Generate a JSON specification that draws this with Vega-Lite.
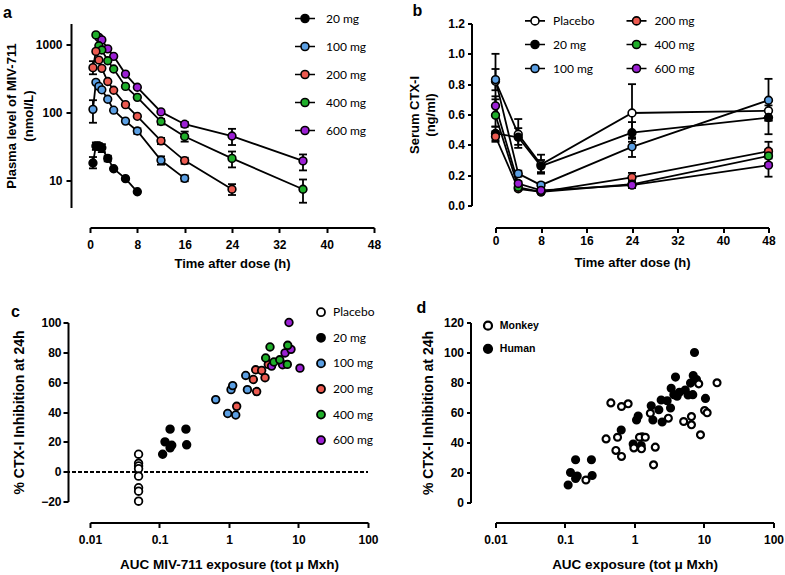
{
  "$schema": "https://vega.github.io/schema/vega-lite/v6.json",
  "background": "white",
  "padding": {"left": 3, "top": 2.5, "right": 0, "bottom": 0},
  "columns": 2,
  "spacing": {"row": 115, "column": 121.5},
  "bounds": "flush",
  "align": "all",
  "resolve": {"scale": {"fill": "independent"}, "legend": {"fill": "independent"}},
  "config": {
    "view": {"stroke": null},
    "font": "Liberation Sans",
    "axis": {"domainColor": "black", "domainWidth": 2, "tickColor": "black", "tickWidth": 2, "tickSize": 5, "labelColor": "black", "labelFont": "Liberation Sans", "labelFontWeight": "bold", "labelFontSize": 12, "titleColor": "black", "titleFont": "Liberation Sans", "titleFontWeight": "bold", "titleFontSize": 13, "grid": false, "labelFlush": false, "labelOverlap": false},
    "legend": {"padding": 0, "labelColor": "black", "labelFont": "Lato", "labelFontSize": 12, "labelFontWeight": "normal", "symbolStrokeColor": "black", "symbolStrokeWidth": 1.6, "symbolSize": 64, "title": null},
    "title": {"font": "Liberation Sans", "fontWeight": "bold", "fontSize": 16, "color": "black", "anchor": "start", "frame": "group"}
  },
  "datasets": {
    "pk": [
      {"dose": "600 mg", "t": 1.5, "v": 1250},
      {"dose": "600 mg", "t": 2, "v": 1150},
      {"dose": "600 mg", "t": 3, "v": 850},
      {"dose": "600 mg", "t": 4, "v": 660},
      {"dose": "600 mg", "t": 6, "v": 362},
      {"dose": "600 mg", "t": 8, "v": 232},
      {"dose": "600 mg", "t": 12, "v": 101},
      {"dose": "600 mg", "t": 16, "v": 66.7, "lo": 61, "hi": 72},
      {"dose": "600 mg", "t": 24, "v": 44.7, "lo": 33, "hi": 57},
      {"dose": "600 mg", "t": 36, "v": 19.3, "lo": 14, "hi": 24},
      {"dose": "400 mg", "t": 1, "v": 1360},
      {"dose": "400 mg", "t": 1.5, "v": 944},
      {"dose": "400 mg", "t": 2, "v": 816},
      {"dose": "400 mg", "t": 3, "v": 568},
      {"dose": "400 mg", "t": 4, "v": 430},
      {"dose": "400 mg", "t": 6, "v": 239},
      {"dose": "400 mg", "t": 8, "v": 165},
      {"dose": "400 mg", "t": 12, "v": 73, "lo": 66, "hi": 80},
      {"dose": "400 mg", "t": 16, "v": 44, "lo": 37, "hi": 52},
      {"dose": "400 mg", "t": 24, "v": 21, "lo": 15.5, "hi": 26.5},
      {"dose": "400 mg", "t": 36, "v": 7.4, "lo": 4.7, "hi": 10.3},
      {"dose": "200 mg", "t": 0.5, "v": 450, "lo": 360, "hi": 560},
      {"dose": "200 mg", "t": 1, "v": 780},
      {"dose": "200 mg", "t": 1.5, "v": 582},
      {"dose": "200 mg", "t": 2, "v": 440},
      {"dose": "200 mg", "t": 3, "v": 282},
      {"dose": "200 mg", "t": 4, "v": 210},
      {"dose": "200 mg", "t": 6, "v": 129},
      {"dose": "200 mg", "t": 8, "v": 87},
      {"dose": "200 mg", "t": 12, "v": 38, "lo": 34, "hi": 42},
      {"dose": "200 mg", "t": 16, "v": 19.5, "lo": 17.5, "hi": 21.5},
      {"dose": "200 mg", "t": 24, "v": 7.4, "lo": 6.1, "hi": 8.8},
      {"dose": "100 mg", "t": 0.5, "v": 110, "lo": 70, "hi": 150},
      {"dose": "100 mg", "t": 1, "v": 274},
      {"dose": "100 mg", "t": 1.5, "v": 239},
      {"dose": "100 mg", "t": 2, "v": 213},
      {"dose": "100 mg", "t": 3, "v": 155},
      {"dose": "100 mg", "t": 4, "v": 107},
      {"dose": "100 mg", "t": 6, "v": 74},
      {"dose": "100 mg", "t": 8, "v": 53, "lo": 48, "hi": 58},
      {"dose": "100 mg", "t": 12, "v": 19.7, "lo": 17, "hi": 22.5},
      {"dose": "100 mg", "t": 16, "v": 10.7, "lo": 9.7, "hi": 11.8},
      {"dose": "20 mg", "t": 0.5, "v": 18, "lo": 15, "hi": 22},
      {"dose": "20 mg", "t": 1, "v": 32, "lo": 28, "hi": 36},
      {"dose": "20 mg", "t": 1.5, "v": 32, "lo": 28, "hi": 35},
      {"dose": "20 mg", "t": 2, "v": 30, "lo": 26, "hi": 34},
      {"dose": "20 mg", "t": 3, "v": 21, "lo": 19, "hi": 23},
      {"dose": "20 mg", "t": 4, "v": 14.8},
      {"dose": "20 mg", "t": 6, "v": 10.6},
      {"dose": "20 mg", "t": 8, "v": 6.8}
    ],
    "ctx": [
      {"dose": "Placebo", "t": 0, "v": 0.82, "lo": 0.66, "hi": 1.0},
      {"dose": "Placebo", "t": 4, "v": 0.47, "lo": 0.38, "hi": 0.57},
      {"dose": "Placebo", "t": 8, "v": 0.27, "lo": 0.21, "hi": 0.335},
      {"dose": "Placebo", "t": 24, "v": 0.61, "lo": 0.45, "hi": 0.8},
      {"dose": "Placebo", "t": 48, "v": 0.625, "lo": 0.56, "hi": 0.69},
      {"dose": "20 mg", "t": 0, "v": 0.475, "lo": 0.43, "hi": 0.52},
      {"dose": "20 mg", "t": 4, "v": 0.45, "lo": 0.4, "hi": 0.51},
      {"dose": "20 mg", "t": 8, "v": 0.26, "lo": 0.22, "hi": 0.3},
      {"dose": "20 mg", "t": 24, "v": 0.48, "lo": 0.42, "hi": 0.55},
      {"dose": "20 mg", "t": 48, "v": 0.58, "lo": 0.47, "hi": 0.66},
      {"dose": "100 mg", "t": 0, "v": 0.83, "lo": 0.76, "hi": 0.9},
      {"dose": "100 mg", "t": 4, "v": 0.21, "lo": 0.19, "hi": 0.23},
      {"dose": "100 mg", "t": 8, "v": 0.134, "lo": 0.12, "hi": 0.15},
      {"dose": "100 mg", "t": 24, "v": 0.387, "lo": 0.32, "hi": 0.44},
      {"dose": "100 mg", "t": 48, "v": 0.694, "lo": 0.56, "hi": 0.835},
      {"dose": "200 mg", "t": 0, "v": 0.455, "lo": 0.42, "hi": 0.49},
      {"dose": "200 mg", "t": 4, "v": 0.11, "lo": 0.1, "hi": 0.12},
      {"dose": "200 mg", "t": 8, "v": 0.09, "lo": 0.08, "hi": 0.1},
      {"dose": "200 mg", "t": 24, "v": 0.185, "lo": 0.16, "hi": 0.215},
      {"dose": "200 mg", "t": 48, "v": 0.358, "lo": 0.31, "hi": 0.42},
      {"dose": "400 mg", "t": 0, "v": 0.595, "lo": 0.52, "hi": 0.7},
      {"dose": "400 mg", "t": 4, "v": 0.12, "lo": 0.11, "hi": 0.13},
      {"dose": "400 mg", "t": 8, "v": 0.09, "lo": 0.08, "hi": 0.1},
      {"dose": "400 mg", "t": 24, "v": 0.14, "lo": 0.12, "hi": 0.16},
      {"dose": "400 mg", "t": 48, "v": 0.327, "lo": 0.28, "hi": 0.37},
      {"dose": "600 mg", "t": 0, "v": 0.657, "lo": 0.6, "hi": 0.72},
      {"dose": "600 mg", "t": 4, "v": 0.145, "lo": 0.13, "hi": 0.16},
      {"dose": "600 mg", "t": 8, "v": 0.1, "lo": 0.09, "hi": 0.11},
      {"dose": "600 mg", "t": 24, "v": 0.134, "lo": 0.115, "hi": 0.155},
      {"dose": "600 mg", "t": 48, "v": 0.266, "lo": 0.19, "hi": 0.34}
    ],
    "cd": [
      {"sp": "Human", "dose": "Placebo", "x": 0.05, "y": 11.7},
      {"sp": "Human", "dose": "Placebo", "x": 0.05, "y": 5.6},
      {"sp": "Human", "dose": "Placebo", "x": 0.05, "y": 3.8},
      {"sp": "Human", "dose": "Placebo", "x": 0.05, "y": 2},
      {"sp": "Human", "dose": "Placebo", "x": 0.05, "y": -3},
      {"sp": "Human", "dose": "Placebo", "x": 0.05, "y": -10.8},
      {"sp": "Human", "dose": "Placebo", "x": 0.05, "y": -13.1},
      {"sp": "Human", "dose": "Placebo", "x": 0.05, "y": -19.8},
      {"sp": "Human", "dose": "20 mg", "x": 0.111, "y": 11.7},
      {"sp": "Human", "dose": "20 mg", "x": 0.12, "y": 20},
      {"sp": "Human", "dose": "20 mg", "x": 0.15, "y": 17.7},
      {"sp": "Human", "dose": "20 mg", "x": 0.142, "y": 16},
      {"sp": "Human", "dose": "20 mg", "x": 0.142, "y": 28.5},
      {"sp": "Human", "dose": "20 mg", "x": 0.24, "y": 28.5},
      {"sp": "Human", "dose": "20 mg", "x": 0.246, "y": 18},
      {"sp": "Human", "dose": "100 mg", "x": 0.644, "y": 48.3},
      {"sp": "Human", "dose": "100 mg", "x": 0.957, "y": 39},
      {"sp": "Human", "dose": "100 mg", "x": 1.25, "y": 38},
      {"sp": "Human", "dose": "100 mg", "x": 1.07, "y": 55},
      {"sp": "Human", "dose": "100 mg", "x": 1.13, "y": 57.7},
      {"sp": "Human", "dose": "100 mg", "x": 1.74, "y": 64.5},
      {"sp": "Human", "dose": "100 mg", "x": 1.84, "y": 55},
      {"sp": "Human", "dose": "200 mg", "x": 1.29, "y": 43.8},
      {"sp": "Human", "dose": "200 mg", "x": 2.5, "y": 53.7},
      {"sp": "Human", "dose": "200 mg", "x": 2.24, "y": 61.8},
      {"sp": "Human", "dose": "200 mg", "x": 2.42, "y": 68.3},
      {"sp": "Human", "dose": "200 mg", "x": 2.95, "y": 67.8},
      {"sp": "Human", "dose": "200 mg", "x": 3.3, "y": 63},
      {"sp": "Human", "dose": "200 mg", "x": 3.68, "y": 71.9},
      {"sp": "Human", "dose": "600 mg", "x": 7.3, "y": 100},
      {"sp": "Human", "dose": "600 mg", "x": 6.4, "y": 79.6},
      {"sp": "Human", "dose": "600 mg", "x": 10.5, "y": 69.4},
      {"sp": "Human", "dose": "600 mg", "x": 4.1, "y": 70.8},
      {"sp": "Human", "dose": "600 mg", "x": 5.9, "y": 71.7},
      {"sp": "Human", "dose": "600 mg", "x": 7.8, "y": 82},
      {"sp": "Human", "dose": "400 mg", "x": 3.89, "y": 83.6},
      {"sp": "Human", "dose": "400 mg", "x": 3.37, "y": 76.2},
      {"sp": "Human", "dose": "400 mg", "x": 4.43, "y": 73.5},
      {"sp": "Human", "dose": "400 mg", "x": 5.37, "y": 75},
      {"sp": "Human", "dose": "400 mg", "x": 7.0, "y": 84.7},
      {"sp": "Human", "dose": "400 mg", "x": 6.9, "y": 71.9},
      {"sp": "Monkey", "dose": "Monkey", "x": 0.2, "y": 15},
      {"sp": "Monkey", "dose": "Monkey", "x": 0.39, "y": 42.4},
      {"sp": "Monkey", "dose": "Monkey", "x": 0.457, "y": 66.4},
      {"sp": "Monkey", "dose": "Monkey", "x": 0.65, "y": 64},
      {"sp": "Monkey", "dose": "Monkey", "x": 0.81, "y": 65.8},
      {"sp": "Monkey", "dose": "Monkey", "x": 0.57, "y": 43.5},
      {"sp": "Monkey", "dose": "Monkey", "x": 0.54, "y": 34.7},
      {"sp": "Monkey", "dose": "Monkey", "x": 0.65, "y": 30.7},
      {"sp": "Monkey", "dose": "Monkey", "x": 0.98, "y": 36.4},
      {"sp": "Monkey", "dose": "Monkey", "x": 1.18, "y": 43.5},
      {"sp": "Monkey", "dose": "Monkey", "x": 1.43, "y": 43.5},
      {"sp": "Monkey", "dose": "Monkey", "x": 1.26, "y": 35.8},
      {"sp": "Monkey", "dose": "Monkey", "x": 1.99, "y": 36.9},
      {"sp": "Monkey", "dose": "Monkey", "x": 1.88, "y": 25.1},
      {"sp": "Monkey", "dose": "Monkey", "x": 1.69, "y": 59.5},
      {"sp": "Monkey", "dose": "Monkey", "x": 3.07, "y": 56.2},
      {"sp": "Monkey", "dose": "Monkey", "x": 5.1, "y": 54},
      {"sp": "Monkey", "dose": "Monkey", "x": 6.6, "y": 57.3},
      {"sp": "Monkey", "dose": "Monkey", "x": 6.6, "y": 51.8},
      {"sp": "Monkey", "dose": "Monkey", "x": 8.9, "y": 45.1},
      {"sp": "Monkey", "dose": "Monkey", "x": 10.2, "y": 61.3},
      {"sp": "Monkey", "dose": "Monkey", "x": 11.1, "y": 59.8},
      {"sp": "Monkey", "dose": "Monkey", "x": 15.4, "y": 79.8},
      {"sp": "Monkey", "dose": "Monkey", "x": 8.4, "y": 79.1}
    ]
  },
  "concat": [
    {
      "width": 284, "height": 184,
      "title": {"text": "a", "dx": -87, "dy": 12},
      "data": {"name": "pk"},
      "layer": [
        {"mark": {"type": "line", "color": "black", "strokeWidth": 1.8},
         "encoding": {
           "x": {"field": "t", "type": "quantitative", "scale": {"domain": [0, 48], "nice": false}, "axis": {"values": [0, 8, 16, 24, 32, 40, 48], "tickCount": 10, "labelOverlap": false, "offset": 20, "title": "Time after dose (h)", "labelPadding": 7, "titlePadding": 7}},
           "y": {"field": "v", "type": "quantitative", "scale": {"type": "log", "domain": [4, 2000], "nice": false}, "axis": {"values": [10, 100, 1000], "tickCount": 10, "labelOverlap": false, "format": "~g", "offset": 19, "title": ["Plasma level of MIV-711", "(nmol/L)"], "titleLineHeight": 17, "labelPadding": 4, "titlePadding": 0}},
           "detail": {"field": "dose"}
         }},
        {"transform": [{"filter": "isValid(datum.lo)"}],
         "mark": {"type": "rule", "color": "black", "strokeWidth": 1.8},
         "encoding": {"x": {"field": "t", "type": "quantitative"}, "y": {"field": "lo", "type": "quantitative"}, "y2": {"field": "hi"}}},
        {"transform": [{"filter": "isValid(datum.lo)"}],
         "mark": {"type": "tick", "orient": "horizontal", "size": 8, "thickness": 1.8, "color": "black", "opacity": 1},
         "encoding": {"x": {"field": "t", "type": "quantitative"}, "y": {"field": "lo", "type": "quantitative"}}},
        {"transform": [{"filter": "isValid(datum.hi)"}],
         "mark": {"type": "tick", "orient": "horizontal", "size": 8, "thickness": 1.8, "color": "black", "opacity": 1},
         "encoding": {"x": {"field": "t", "type": "quantitative"}, "y": {"field": "hi", "type": "quantitative"}}},
        {"mark": {"type": "point", "filled": true, "stroke": "black", "strokeWidth": 1.6, "size": 60, "opacity": 1},
         "encoding": {
           "x": {"field": "t", "type": "quantitative"},
           "y": {"field": "v", "type": "quantitative"},
           "fill": {"field": "dose", "type": "nominal",
             "scale": {"domain": ["20 mg", "100 mg", "200 mg", "400 mg", "600 mg"], "range": ["#000000", "#5b9fe3", "#ec5a50", "#1fae2a", "#9c20d4"]},
             "legend": {"orient": "none", "legendX": 209, "legendY": -11, "symbolType": "M-2.5,0L-1,0M1,0L2.5,0M1,0A1,1,0,1,1,-1,0A1,1,0,1,1,1,0Z", "labelOffset": 15, "rowPadding": 12}}
         }}
      ]
    },
    {
      "width": 273, "height": 182,
      "title": {"text": "b", "dx": -83, "dy": 8},
      "data": {"name": "ctx"},
      "layer": [
        {"mark": {"type": "line", "color": "black", "strokeWidth": 1.8},
         "encoding": {
           "x": {"field": "t", "type": "quantitative", "scale": {"domain": [0, 48], "nice": false}, "axis": {"values": [0, 8, 16, 24, 32, 40, 48], "tickCount": 10, "labelOverlap": false, "offset": 22, "title": "Time after dose (h)", "labelPadding": 3, "titlePadding": 10}},
           "y": {"field": "v", "type": "quantitative", "scale": {"domain": [0, 1.2], "nice": false}, "axis": {"values": [0, 0.2, 0.4, 0.6, 0.8, 1.0, 1.2], "tickCount": 10, "labelOverlap": false, "format": ".1f", "offset": 24, "tickSize": 4, "title": ["Serum CTX-I", "(ng/ml)"], "titleLineHeight": 16, "labelPadding": 3, "titlePadding": 10}},
           "detail": {"field": "dose"}
         }},
        {"mark": {"type": "rule", "color": "black", "strokeWidth": 1.8},
         "encoding": {"x": {"field": "t", "type": "quantitative"}, "y": {"field": "lo", "type": "quantitative"}, "y2": {"field": "hi"}}},
        {"mark": {"type": "tick", "orient": "horizontal", "size": 8, "thickness": 1.8, "color": "black", "opacity": 1},
         "encoding": {"x": {"field": "t", "type": "quantitative"}, "y": {"field": "lo", "type": "quantitative"}}},
        {"mark": {"type": "tick", "orient": "horizontal", "size": 8, "thickness": 1.8, "color": "black", "opacity": 1},
         "encoding": {"x": {"field": "t", "type": "quantitative"}, "y": {"field": "hi", "type": "quantitative"}}},
        {"mark": {"type": "point", "filled": true, "stroke": "black", "strokeWidth": 1.6, "size": 60, "opacity": 1},
         "encoding": {
           "x": {"field": "t", "type": "quantitative"},
           "y": {"field": "v", "type": "quantitative"},
           "fill": {"field": "dose", "type": "nominal",
             "scale": {"domain": ["Placebo", "20 mg", "100 mg", "200 mg", "400 mg", "600 mg"], "range": ["#ffffff", "#000000", "#5b9fe3", "#ec5a50", "#1fae2a", "#9c20d4"]},
             "legend": {"orient": "none", "legendX": 33.5, "legendY": -9, "columns": 2, "columnPadding": 27.5, "symbolType": "M-2.5,0L-1,0M1,0L2.5,0M1,0A1,1,0,1,1,-1,0A1,1,0,1,1,1,0Z", "labelOffset": 12, "rowPadding": 8}}
         }}
      ]
    },
    {
      "width": 278, "height": 179,
      "title": {"text": "c", "dx": -79, "dy": 18},
      "data": {"name": "cd"},
      "transform": [{"filter": "datum.sp !== 'Monkey'"}],
      "layer": [
        {"mark": {"type": "rule", "color": "black", "strokeWidth": 1, "strokeDash": [3, 3]},
         "encoding": {"x": {"datum": 0.0046, "type": "quantitative"}, "x2": {"datum": 100}, "y": {"datum": 0, "type": "quantitative"}}},
        {"mark": {"type": "point", "filled": true, "stroke": "black", "strokeWidth": 1.8, "size": 58, "opacity": 1},
         "encoding": {
           "x": {"field": "x", "type": "quantitative", "scale": {"type": "log", "domain": [0.01, 100], "nice": false}, "axis": {"values": [0.01, 0.1, 1, 10, 100], "tickCount": 10, "labelOverlap": false, "format": "~g", "offset": 21, "title": "AUC MIV-711 exposure (tot μ Mxh)", "titleFontSize": 13.5, "labelPadding": 7, "titlePadding": 12}},
           "y": {"field": "y", "type": "quantitative", "scale": {"domain": [-20, 100], "nice": false}, "axis": {"values": [-20, 0, 20, 40, 60, 80, 100], "tickCount": 10, "labelOverlap": false, "offset": 22, "title": "% CTX-I Inhibition at 24h", "titleFontSize": 14, "labelPadding": 2, "titlePadding": 14}},
           "fill": {"field": "dose", "type": "nominal",
             "scale": {"domain": ["Placebo", "20 mg", "100 mg", "200 mg", "400 mg", "600 mg"], "range": ["#ffffff", "#000000", "#5b9fe3", "#ec5a50", "#1fae2a", "#9c20d4"]},
             "legend": {"orient": "none", "legendX": 225, "legendY": -16.3, "symbolType": "circle", "symbolStrokeWidth": 1.8, "labelOffset": 6, "rowPadding": 9.6}}
         }}
      ]
    },
    {
      "width": 278, "height": 180,
      "title": {"text": "d", "dx": -79, "dy": 3.5},
      "data": {"name": "cd"},
      "transform": [{"filter": "datum.dose !== 'Placebo'"}],
      "mark": {"type": "point", "filled": true, "stroke": "black", "strokeWidth": 2.2, "size": 48, "opacity": 1},
      "encoding": {
        "x": {"field": "x", "type": "quantitative", "scale": {"type": "log", "domain": [0.01, 100], "nice": false}, "axis": {"values": [0.01, 0.1, 1, 10, 100], "tickCount": 10, "labelOverlap": false, "format": "~g", "offset": 20, "title": "AUC exposure (tot μ Mxh)", "titleFontSize": 13.5, "labelPadding": 7, "titlePadding": 12}},
        "y": {"field": "y", "type": "quantitative", "scale": {"domain": [0, 120], "nice": false}, "axis": {"values": [0, 20, 40, 60, 80, 100, 120], "tickCount": 10, "labelOverlap": false, "offset": 25, "tickSize": 4, "title": "% CTX-I Inhibition at 24h", "titleFontSize": 14, "labelPadding": 3, "titlePadding": 8}},
        "fill": {"field": "sp", "type": "nominal",
          "scale": {"domain": ["Monkey", "Human"], "range": ["#ffffff", "#000000"]},
          "legend": {"orient": "none", "legendX": -13, "legendY": -2.3, "symbolType": "circle", "symbolStrokeWidth": 2.2, "labelOffset": 6.3, "rowPadding": 6.1, "labelFont": "Liberation Sans", "labelFontWeight": "bold", "labelFontSize": 10.5}}
      }
    }
  ]
}
